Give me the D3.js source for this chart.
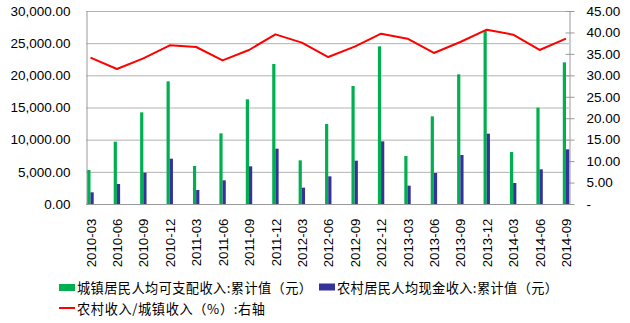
<!DOCTYPE html>
<html><head><meta charset="utf-8">
<script src="https://cdn.jsdelivr.net/npm/d3@7/dist/d3.min.js"></script>
<style>
html,body{margin:0;padding:0;background:#fff;}
svg{display:block;}
</style></head>
<body>
<svg id="c" width="630" height="323"></svg>
<script>
const categories = ["2010-03","2010-06","2010-09","2010-12","2011-03","2011-06","2011-09","2011-12","2012-03","2012-06","2012-09","2012-12","2013-03","2013-06","2013-09","2013-12","2014-03","2014-06","2014-09"];
const urbanIncome = [5285,9689,14248,19067,5907,10985,16270,21762,6788,12435,18342,24510,7461,13626,20155,26943,8083,14974,22021];
const ruralIncome = [1818,3109,4870,7046,2176,3679,5855,8601,2539,4300,6735,9741,2850,4819,7617,10933,3264,5389,8498];
const ratio = [34.12,31.48,33.97,36.99,36.61,33.5,35.91,39.56,37.62,34.27,36.68,39.71,38.55,35.21,37.77,40.65,39.48,35.91,38.55];
const leftTicks = [0,5000,10000,15000,20000,25000,30000];
const rightTicks = [0,5,10,15,20,25,30,35,40,45];
const seriesNames = ["城镇居民人均可支配收入:累计值（元）","农村居民人均现金收入:累计值（元）","农村收入/城镇收入（%）:右轴"];

const svg = d3.select("#c");
const L = 86, R = 569, T = 11, B = 204;
const x = d3.scalePoint().domain(categories).range([90.5, 566]);
const yL = d3.scaleLinear().domain([0,30000]).range([B,T]);
const yR = d3.scaleLinear().domain([0,45]).range([B,T]);
const numFont = "'Liberation Sans', Arial, sans-serif";
const cjkFont = "'Noto Sans CJK SC', sans-serif";

// gridlines
svg.append("g").selectAll("line").data(leftTicks.slice(1)).join("line")
  .attr("x1", L).attr("x2", R).attr("y1", d=>yL(d)+0.5).attr("y2", d=>yL(d)+0.5)
  .attr("stroke", "#b3b3b3").attr("stroke-width", 1);

// left axis
const fmtL = d3.format(",.2f");
const gl = svg.append("g").attr("transform", `translate(${L+0.5},0)`)
  .call(d3.axisLeft(yL).tickValues(leftTicks).tickSize(0).tickPadding(16).tickFormat(fmtL));
gl.select(".domain").attr("stroke", "#999");
gl.selectAll("text").attr("font-family", numFont).attr("font-size", "13.5px").attr("fill", "#000");

// right axis
const gr = svg.append("g").attr("transform", `translate(${R+0.5},0)`)
  .call(d3.axisRight(yR).tickValues(rightTicks).tickSizeInner(5).tickSizeOuter(0).tickPadding(12)
    .tickFormat(d => d === 0 ? "-" : d3.format(".2f")(d)));
gr.select(".domain").attr("stroke", "#999");
gr.selectAll(".tick line").attr("stroke", "#999").attr("x1", -4);
gr.selectAll("text").attr("font-family", numFont).attr("font-size", "13.5px").attr("fill", "#000");

// bottom axis
const gb = svg.append("g").attr("transform", `translate(0,${B+0.5})`)
  .call(d3.axisBottom(x).tickSize(0).tickPadding(0));
gb.select(".domain").attr("d", `M${L},0H${R}`).attr("stroke", "#999");
gb.selectAll("text")
  .attr("font-family", numFont).attr("font-size", "13.3px").attr("fill", "#000")
  .attr("text-anchor", "end").attr("dy", null)
  .attr("transform", "translate(0,14) rotate(-90)")
  .attr("x", 0).attr("y", 0).attr("dy", "0.35em");

// bars
const bw = 3.2;
svg.append("g").selectAll("rect").data(urbanIncome).join("rect")
  .attr("x", (d,i)=>x(categories[i]) - bw).attr("width", bw)
  .attr("y", d=>yL(d)).attr("height", d=>B - yL(d))
  .attr("fill", "#00B050");
svg.append("g").selectAll("rect").data(ruralIncome).join("rect")
  .attr("x", (d,i)=>x(categories[i])).attr("width", bw)
  .attr("y", d=>yL(d)).attr("height", d=>B - yL(d))
  .attr("fill", "#333399");

// line
const line = d3.line().x((d,i)=>x(categories[i])).y(d=>yR(d));
svg.append("path").datum(ratio).attr("d", line)
  .attr("fill", "none").attr("stroke", "#FF0000").attr("stroke-width", 2).attr("stroke-linejoin", "round");

// legend
const lg = svg.append("g");
lg.append("rect").attr("x", 59).attr("y", 284).attr("width", 16).attr("height", 7).attr("fill", "#00B050");
lg.append("text").attr("x", 77).attr("y", 288).attr("dy", "0.35em").attr("textLength", 235).text(seriesNames[0]);
lg.append("rect").attr("x", 319).attr("y", 283.5).attr("width", 16).attr("height", 7).attr("fill", "#333399");
lg.append("text").attr("x", 337).attr("y", 288).attr("dy", "0.35em").attr("textLength", 221).text(seriesNames[1]);
lg.append("line").attr("x1", 59).attr("x2", 75).attr("y1", 308).attr("y2", 308).attr("stroke", "#FF0000").attr("stroke-width", 2);
lg.append("text").attr("x", 77).attr("y", 309).attr("dy", "0.35em").attr("textLength", 188).text(seriesNames[2]);
lg.selectAll("text").attr("font-family", cjkFont).attr("font-size", "13.2px").attr("fill", "#000").attr("lengthAdjust", "spacing");
</script>
</body></html>
